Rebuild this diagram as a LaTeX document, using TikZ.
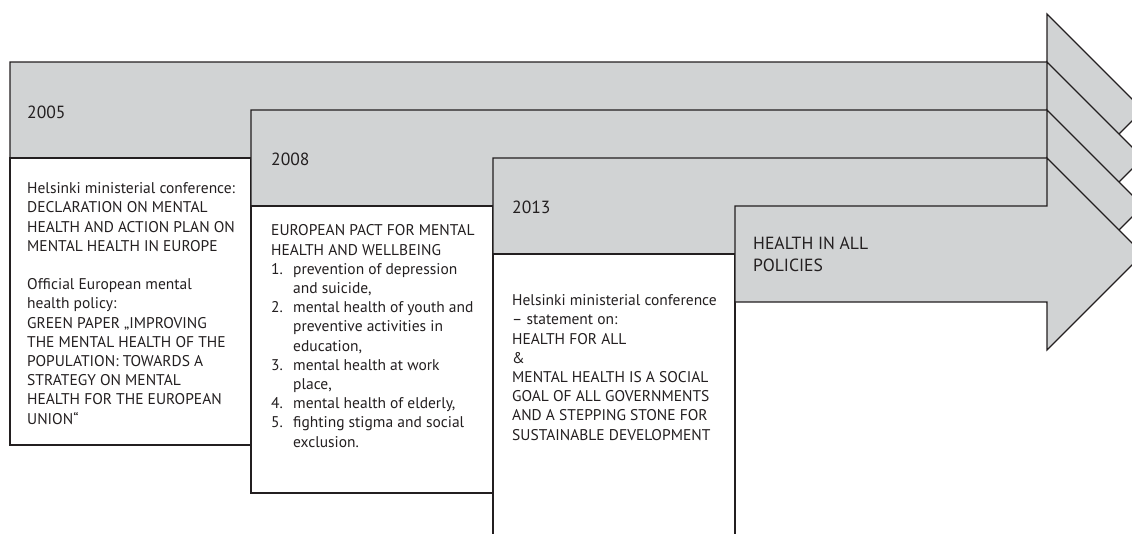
\documentclass[tikz,border=0pt]{standalone}
\usepackage{fontspec}
\setmainfont{PT Sans}
\usepackage{xcolor}
\definecolor{bandgray}{RGB}{209,211,212}
\definecolor{ink}{RGB}{35,31,32}

\begin{document}
\begin{tikzpicture}[
    x=1pt, y=-1pt,
    timeband/.style={fill=bandgray, draw=ink, line width=1.2pt},
    eventbox/.style={fill=white, draw=ink, line width=1.2pt},
    year/.style={anchor=base west, inner sep=0pt, text=ink, font=\fontsize{17.6}{21.7}\selectfont},
    note/.style={anchor=base west, inner sep=0pt, text=ink, align=left, font=\fontsize{15.5}{19.2}\selectfont}
]
    \clip (0,0) rectangle (1132,533);

    % Bands and boxes
    \draw[timeband] (10,62) -- (1047,62) -- (1047,14) -- (1143,110) -- (1047,206) -- (1047,158) -- (10,158) -- cycle;
    \draw[eventbox] (10,158) rectangle (251,445);
    \draw[timeband] (251,110) -- (1047,110) -- (1047,62) -- (1143,158) -- (1047,254) -- (1047,206) -- (251,206) -- cycle;
    \draw[eventbox] (251,206) rectangle (493,493);
    \draw[timeband] (493,158) -- (1047,158) -- (1047,110) -- (1143,206) -- (1047,302) -- (1047,254) -- (493,254) -- cycle;
    \draw[eventbox] (493,254) rectangle (735,560);
    \draw[timeband] (735,206) -- (1047,206) -- (1047,158) -- (1143,254) -- (1047,350) -- (1047,302) -- (735,302) -- cycle;

    % Years (base = last line)
    \node[year] (y2005) at (27,118) {2005};
    \node[year] (y2008) at (271,165) {2008};
    \node[year] (y2013) at (512,213) {2013};
    \node[year, align=left] (hiap) at (753,271) {HEALTH IN ALL\\POLICIES};

    % Events
    \node[note] (helsinki05) at (27,424) {Helsinki ministerial conference:\\DECLARATION ON MENTAL\\HEALTH AND ACTION PLAN ON\\MENTAL HEALTH IN EUROPE\\[19.2pt]Official European mental\\health policy:\\GREEN PAPER „IMPROVING\\THE MENTAL HEALTH OF THE\\POPULATION: TOWARDS A\\STRATEGY ON MENTAL\\HEALTH FOR THE EUROPEAN\\UNION“};
    \node[note] (pact08) at (271,447) {EUROPEAN PACT FOR MENTAL\\HEALTH AND WELLBEING\\
        \makebox[22pt][l]{1.}prevention of depression\\\hspace*{22pt}and suicide,\\
        \makebox[22pt][l]{2.}mental health of youth and\\\hspace*{22pt}preventive activities in\\\hspace*{22pt}education,\\
        \makebox[22pt][l]{3.}mental health at work\\\hspace*{22pt}place,\\
        \makebox[22pt][l]{4.}mental health of elderly,\\
        \makebox[22pt][l]{5.}fighting stigma and social\\\hspace*{22pt}exclusion.};
    \node[note] (helsinki13) at (512,440) {Helsinki ministerial conference\\– statement on:\\HEALTH FOR ALL\\\&\\MENTAL HEALTH IS A SOCIAL\\GOAL OF ALL GOVERNMENTS\\AND A STEPPING STONE FOR\\SUSTAINABLE DEVELOPMENT};
\end{tikzpicture}
\end{document}
